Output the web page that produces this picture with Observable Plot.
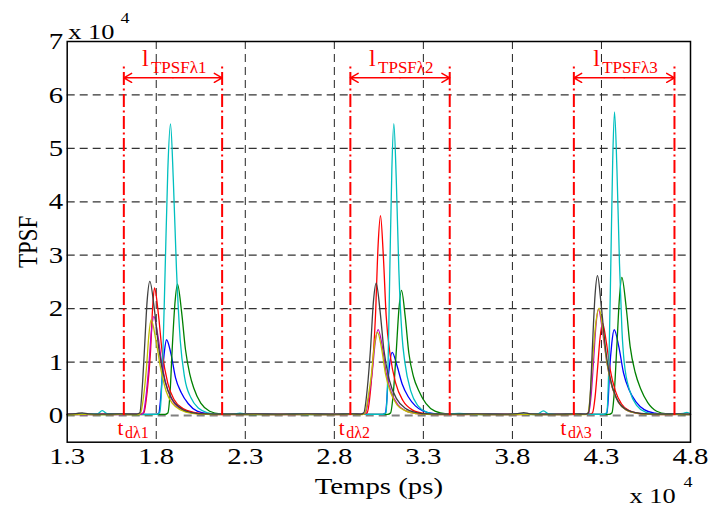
<!DOCTYPE html>
<html><head><meta charset="utf-8">
<script src="https://cdn.jsdelivr.net/npm/d3@7"></script>
<script src="https://cdn.jsdelivr.net/npm/@observablehq/plot@0.6"></script>
<style>body{margin:0;background:#fff} svg{display:block}</style>
</head><body><div id="chart"></div>
<script>
// ---- data: [time (ps), TPSF] ----
const blue = [[13000,200],[14000,250],[15000,200],[16000,250],[17000,200],
 [18000,200],[18145,450],[18240,3000],[18332,7100],[18460,12000],[18576,14180],[18830,11500],[19081,7100],[19400,4300],[19800,2200],[20300,800],[20900,350],[21500,250],
 [22500,200],[24000,250],[25500,200],[27000,250],[28500,200],[30000,200],
 [30720,200],[30873,450],[30940,2500],[31004,5900],[31120,10000],[31247,11810],[31520,9300],[31809,5900],[32150,3500],[32550,1800],[33000,800],[33600,350],[34200,250],
 [35500,200],[37000,250],[38500,200],[40000,250],[41500,200],[42500,200],
 [43150,200],[43301,450],[43380,3000],[43451,8000],[43580,13500],[43713,16050],[43980,12800],[44237,8000],[44550,4800],[44950,2500],[45400,1100],[46000,450],[46600,250],
 [47300,200],[48000,200]];
const green = [[13000,150],[14000,200],[15000,150],[16000,200],[17000,150],[18000,200],
 [18500,200],[18650,450],[18780,4500],[18894,12300],[19050,21000],[19193,24600],[19420,19500],[19643,12300],[19880,7800],[20111,5100],[20500,2300],[21000,800],[21600,300],
 [22500,200],[24000,150],[25500,200],[27000,150],[28500,200],[30000,200],
 [31000,200],[31154,450],[31320,4500],[31472,11700],[31630,20000],[31771,23420],[31980,18500],[32183,11700],[32450,7200],[32750,4600],[33150,2200],[33650,800],[34300,300],
 [35500,200],[37000,150],[38500,200],[40000,150],[41500,200],[42500,200],
 [43430,200],[43582,450],[43730,4800],[43863,12900],[44010,22000],[44144,25850],[44380,20500],[44612,12900],[44900,8000],[45200,5000],[45600,2400],[46100,800],[46700,300],
 [47300,200],[48000,150]];
const red = [[13000,250],[14000,200],[15000,250],[16000,200],[16800,250],
 [17150,250],[17303,500],[17500,4800],[17677,11900],[17800,20300],[17902,23860],[18120,19000],[18332,11900],[18650,6000],[19000,3000],[19500,1300],[20100,600],[20900,300],
 [22000,250],[23500,200],[25000,250],[26500,200],[28000,250],[29200,200],
 [29700,250],[29843,500],[30080,6500],[30311,18700],[30460,32000],[30592,37400],[30750,30000],[30910,18700],[31150,11000],[31450,6000],[31850,2800],[32400,1000],[33000,400],[33600,250],
 [34500,300],[36000,200],[37500,250],[39000,200],[40500,250],[41700,200],
 [42340,250],[42496,450],[42640,3400],[42777,8650],[42920,14500],[43058,17300],[43270,13800],[43488,8650],[43780,4600],[44120,2200],[44550,900],[45100,400],[45700,250],
 [46600,300],[47400,200],[48000,250]];
const cyan = [[13000,200],[14000,250],[14700,300],[14966,900],[15250,350],[16000,200],[17000,250],
 [18050,200],[18200,600],[18360,10000],[18500,27300],[18650,46000],[18800,54560],[18960,44000],[19137,27300],[19350,14000],[19600,7000],[19950,3300],[20400,1300],[20900,500],[21400,250],
 [22300,250],[22700,450],[23100,250],[24500,200],[26000,250],[27500,200],[29000,250],[30000,200],
 [30750,200],[30900,600],[31020,10000],[31116,27300],[31230,46000],[31341,54620],[31480,44000],[31622,27300],[31800,15000],[31959,10000],[32300,4500],[32700,1800],[33200,600],[33700,250],
 [34500,250],[35000,400],[35500,250],[37000,200],[38500,250],[39400,300],[39744,850],[40050,300],[41000,200],[42000,250],
 [43150,200],[43301,600],[43420,10000],[43526,28400],[43630,47500],[43732,56800],[43870,46000],[44013,28400],[44150,16000],[44275,10000],[44600,4500],[45000,1800],[45500,600],[46000,250],
 [47000,250],[47600,400],[47800,600],[48000,300]];
const magenta = [[13000,200],[14000,150],[15000,200],[16000,150],[16800,200],
 [17100,200],[17265,450],[17430,3700],[17584,9300],[17730,15800],[17864,18550],[18100,14800],[18332,9300],[18650,4700],[19000,2300],[19500,1000],[20100,450],[20900,200],
 [22000,150],[23500,200],[25000,150],[26500,200],[28000,150],[29200,200],
 [29600,200],[29750,450],[29940,3500],[30124,8000],[30300,13800],[30461,16060],[30690,13000],[30910,8000],[31200,4300],[31550,2100],[32000,900],[32600,350],[33200,200],
 [34500,150],[36000,200],[37500,150],[39000,200],[40500,150],[41700,200],
 [42120,200],[42272,450],[42420,3800],[42552,10000],[42690,16800],[42833,19920],[43060,15800],[43301,10000],[43600,5300],[43950,2500],[44400,1000],[45000,400],[45700,200],
 [46600,150],[47400,200],[48000,150]];
const yellow = [[13000,150],[14000,200],[15000,150],[16000,200],[16700,150],
 [16950,150],[17116,400],[17290,3600],[17453,9000],[17590,15200],[17715,17930],[17970,14300],[18239,9000],[18560,4500],[18920,2200],[19400,1000],[20000,400],[20800,200],
 [22000,150],[23500,200],[25000,150],[26500,200],[28000,150],[29100,200],
 [29560,150],[29712,400],[29900,3400],[30087,7800],[30260,13400],[30424,15560],[30650,12600],[30873,7800],[31170,4200],[31520,2000],[31980,900],[32600,350],[33200,200],
 [34500,150],[36000,200],[37500,150],[39000,200],[40500,150],[41600,200],
 [42080,150],[42234,400],[42370,3800],[42496,10000],[42690,17500],[42870,20110],[43080,16000],[43301,10000],[43600,5300],[43950,2500],[44400,1000],[45000,400],[45700,200],
 [46600,150],[47400,200],[48000,150]];
const black = [[13000,250],[13500,350],[13840,500],[14200,300],[15000,250],[16000,300],
 [16900,250],[17078,500],[17210,5000],[17340,12500],[17490,21500],[17640,25100],[17890,20000],[18145,12500],[18500,6300],[18900,3000],[19400,1300],[20000,550],[20800,300],
 [22000,250],[23500,300],[25000,250],[26500,300],[28000,250],[29000,300],
 [29500,250],[29656,500],[29850,5000],[30030,12400],[30200,21500],[30349,24790],[30570,19500],[30779,12400],[31100,6500],[31500,3100],[32000,1300],[32600,550],[33300,300],
 [34500,250],[36000,300],[37500,250],[38300,350],[38630,550],[39000,300],[40500,250],[41500,300],
 [42120,250],[42272,500],[42390,5000],[42496,13100],[42640,22500],[42777,26160],[42990,20500],[43208,13100],[43500,6800],[43850,3200],[44300,1300],[44900,550],[45600,300],
 [46500,250],[47300,300],[48000,250]];

const seriesList = [blue, green, red, cyan, magenta, yellow, black];
const seriesColors = ["#0000ff", "#008000", "#ff0000", "#00bfbf", "#bf00bf", "#bfbf00", "#404040"];

const xTicks = [13000, 18000, 23000, 28000, 33000, 38000, 43000, 48000];
const yTicks = [0, 10000, 20000, 30000, 40000, 50000, 60000, 70000];
const xGrid = [18000, 23000, 28000, 33000, 38000, 43000];
const yGrid = [10000, 20000, 30000, 40000, 50000, 60000];

// annotation values
const tdStart = [16180, 28900, 41450];
const tdEnd = [21700, 34480, 47100];
const tdLabelX = [15820, 28250, 40700];
const lSubs = ["TPSFλ1", "TPSFλ2", "TPSFλ3"];
const tSubs = ["dλ1", "dλ2", "dλ3"];
const redTop = 65500;
const arrowY = 63200;

const groups = tdStart.map((s, i) => ({start: s, end: tdEnd[i], mid: (s + tdEnd[i]) / 2, lsub: lSubs[i], tsub: tSubs[i], tx: tdLabelX[i]}));
const RED = "#ff0000";

const marks = [
  Plot.ruleX(xGrid, {stroke: "#222", strokeWidth: 1, strokeDasharray: "8,5"}),
  Plot.ruleY(yGrid, {stroke: "#333", strokeWidth: 1.2, strokeDasharray: "8,5"}),
  Plot.ruleY([0], {stroke: "#808080", strokeWidth: 2, strokeDasharray: "8,5"}),
  ...seriesList.map((s, i) => Plot.line(s, {x: d => d[0], y: d => d[1], stroke: seriesColors[i], strokeWidth: 1.3, curve: "monotone-x"})),
  Plot.ruleX(groups.flatMap(g => [g.start, g.end]), {y1: 0, y2: redTop, stroke: RED, strokeWidth: 2, strokeDasharray: "13,3.5,2,3.5"}),
  Plot.arrow(groups, {x1: "mid", x2: "start", y1: arrowY, y2: arrowY, stroke: RED, strokeWidth: 1.5, headLength: 9, headAngle: 60}),
  Plot.arrow(groups, {x1: "mid", x2: "end", y1: arrowY, y2: arrowY, stroke: RED, strokeWidth: 1.5, headLength: 9, headAngle: 60}),
  Plot.text(groups, {x: "mid", y: arrowY, text: () => "l", dx: -31, dy: -11.5, textAnchor: "start", lineAnchor: "bottom", fontSize: 24, fill: RED}),
  Plot.text(groups, {x: "mid", y: arrowY, text: "lsub", dx: -22, dy: -5, textAnchor: "start", lineAnchor: "bottom", fontSize: 17, fill: RED}),
  Plot.text(groups, {x: "tx", y: 0, text: () => "t", dy: 19.5, textAnchor: "start", lineAnchor: "bottom", fontSize: 21, fill: RED}),
  Plot.text(groups, {x: "tx", y: 0, text: "tsub", dx: 7.5, dy: 22.5, textAnchor: "start", lineAnchor: "bottom", fontSize: 16, fill: RED}),
  Plot.frame({stroke: "black", strokeWidth: 1.5}),
  Plot.text(["Temps (ps)"], {frameAnchor: "bottom", dy: 52, textAnchor: "middle", lineAnchor: "bottom", fontSize: 24, fill: "black"}),
  Plot.text(["TPSF"], {frameAnchor: "left", dx: -38.7, rotate: -90, textAnchor: "middle", lineAnchor: "middle", fontSize: 27, fill: "black"}),
  Plot.text(["x 10"], {frameAnchor: "top-left", dx: 1, dy: -3, textAnchor: "start", lineAnchor: "bottom", fontSize: 22, fill: "black"}),
  Plot.text(["4"], {frameAnchor: "top-left", dx: 53.3, dy: -19, textAnchor: "start", lineAnchor: "bottom", fontSize: 15, fill: "black"}),
  Plot.text(["x 10"], {frameAnchor: "bottom-right", dx: -61, dy: 61, textAnchor: "start", lineAnchor: "bottom", fontSize: 22, fill: "black"}),
  Plot.text(["4"], {frameAnchor: "bottom-right", dx: -7, dy: 44.5, textAnchor: "start", lineAnchor: "bottom", fontSize: 15, fill: "black"})
];

const svg = Plot.plot({
  width: 709, height: 507,
  marginLeft: 66.7, marginRight: 19, marginTop: 41, marginBottom: 65.3,
  style: {fontFamily: "'Liberation Serif', 'Times New Roman', serif", fontSize: "24px", color: "black", background: "white"},
  x: {domain: [13000, 48000], ticks: xTicks, tickFormat: d => (d / 1e4).toFixed(1), tickSize: 0, tickPadding: 5, label: null},
  y: {domain: [-5000, 70000], ticks: yTicks, tickFormat: d => String(d / 1e4), tickSize: 0, tickPadding: 4, label: null},
  marks
});
document.getElementById("chart").appendChild(svg);

// the reference's axis texts are horizontally stretched; mimic that
svg.querySelectorAll("text").forEach(t => {
  const tr = t.getAttribute("transform") || "";
  const w = t.getComputedTextLength();
  if (!(w > 0)) return;
  if (tr.includes("rotate")) {
    // rotated label: its run is not stretched, its glyph height is
    t.setAttribute("textLength", (w * 0.85).toFixed(2));
    t.setAttribute("lengthAdjust", "spacingAndGlyphs");
    return;
  }
  const fill = getComputedStyle(t).fill;
  if (fill === "rgb(255, 0, 0)") return;
  t.setAttribute("textLength", (w * 1.2).toFixed(2));
  t.setAttribute("lengthAdjust", "spacingAndGlyphs");
});
</script>
</body></html>
